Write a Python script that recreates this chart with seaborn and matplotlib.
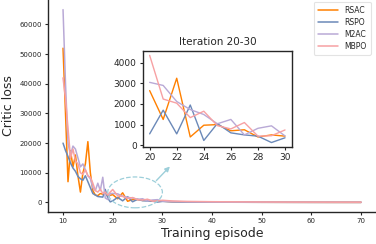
import numpy as np
import pandas as pd
import seaborn as sns
import matplotlib.pyplot as plt
from matplotlib.patches import Ellipse

episodes = [10, 10.5, 11, 11.5, 12, 12.5, 13, 13.5, 14, 14.5, 15, 15.5, 16, 16.5, 17, 17.5, 18, 18.5, 19, 19.5,
            20, 21, 22, 23, 24, 25, 26, 27, 28, 29, 30, 32, 35, 40, 45, 50, 55, 60, 65, 70]

rsac = [52000, 30000, 7000, 17500, 12000, 16000, 9000, 3500, 10000, 13000, 20500, 10000, 4000, 2500, 2300, 3000,
        2800, 3200, 2200, 2400,
        2650, 1250, 3250, 400, 970, 1000, 700, 750, 400, 500, 440, 250, 150, 100, 80, 60, 50, 40, 30, 30]
rspo = [20000, 17500, 15500, 13300, 11600, 10500, 8800, 8000, 7500, 9000, 7000, 5000, 3000, 2500, 2000, 1900,
        1800, 4400, 1500, 200,
        550, 1700, 550, 1950, 230, 1050, 600, 500, 440, 130, 360, 200, 120, 90, 70, 50, 40, 30, 30, 20]
m2ac = [65000, 40000, 20000, 16000, 19000, 18000, 15000, 12000, 13000, 11000, 9000, 8000, 5000, 4000, 6500, 4000,
        8500, 1500, 1000, 3000,
        3050, 2900, 2120, 1730, 1490, 1040, 1250, 500, 820, 940, 450, 300, 200, 150, 100, 80, 60, 50, 40, 40]
mbpo = [42000, 35000, 25000, 15000, 18000, 14000, 13000, 10000, 9500, 11000, 9000, 8500, 6500, 4000, 3500, 4500,
        3000, 3500, 2500, 3500,
        4360, 2240, 2040, 1340, 1650, 950, 790, 1100, 440, 460, 740, 500, 350, 250, 200, 150, 120, 100, 90, 80]

methods = ['RSAC', 'RSPO', 'M2AC', 'MBPO']
colors = ['#ff8000', '#6b89b8', '#b9a9d6', '#f7a1a3']

df = pd.DataFrame({'episode': episodes, 'RSAC': rsac, 'RSPO': rspo, 'M2AC': m2ac, 'MBPO': mbpo})
long = df.melt(id_vars='episode', var_name='method', value_name='loss')
zoom = long[(long['episode'] >= 20) & (long['episode'] <= 30)]

sns.set_style('ticks')
plt.rcParams['font.family'] = ['DejaVu Sans']

fig = plt.figure(figsize=(3.76, 2.44), dpi=100)
ax = fig.add_axes([0.128, 0.131, 0.872, 0.869])
sns.lineplot(data=long, x='episode', y='loss', hue='method', hue_order=methods,
             palette=colors, linewidth=1.1, ax=ax)
sns.despine(ax=ax)
ax.set_xticks([10, 20, 30, 40, 50, 60, 70])
ax.set_yticks([0, 10000, 20000, 30000, 40000, 50000, 60000])
ax.tick_params(labelsize=5, length=2.5, width=0.8, pad=2)
ax.set_xlabel('Training episode', fontsize=9, labelpad=2)
ax.set_ylabel('Critic loss', fontsize=9, labelpad=3)
for s in ax.spines.values():
    s.set_linewidth(1.0)
leg = ax.legend(loc='upper right', bbox_to_anchor=(0.995, 1.01), fontsize=5.5,
                frameon=True, handlelength=2.6, handletextpad=0.9, borderpad=0.5,
                labelspacing=0.4, fancybox=True)
leg.get_frame().set_edgecolor('#dddddd')
leg.get_frame().set_linewidth(0.8)

# dashed ring around the zoomed region and an arrow to the inset
ax.add_patch(Ellipse((24.5, 3400), 11, 10400, fill=False, linestyle='--',
                     edgecolor='#9dcfda', linewidth=0.9, zorder=5))
ax.annotate('', xy=(31.9, 12800), xytext=(28.4, 6700),
            arrowprops=dict(arrowstyle='-|>', color='#9dcfda', lw=1.0, mutation_scale=7))

ins = fig.add_axes([0.380, 0.398, 0.396, 0.393])
sns.lineplot(data=zoom, x='episode', y='loss', hue='method', hue_order=methods,
             palette=colors, linewidth=1.0, ax=ins, legend=False)
ins.set_xticks([20, 22, 24, 26, 28, 30])
ins.set_yticks([0, 1000, 2000, 3000, 4000])
ins.tick_params(labelsize=6.5, length=2.5, width=0.8, pad=2)
ins.set_xlabel('')
ins.set_ylabel('')
ins.set_title('Iteration 20-30', fontsize=7.5, pad=4)
for s in ins.spines.values():
    s.set_linewidth(1.0)

fig.savefig('out.png', dpi=100)
